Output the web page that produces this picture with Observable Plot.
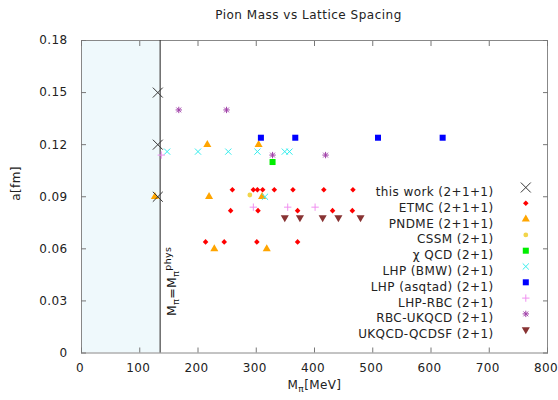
<!DOCTYPE html>
<html><head><meta charset="utf-8">
<script src="https://cdn.jsdelivr.net/npm/d3@7"></script>
<script src="https://cdn.jsdelivr.net/npm/@observablehq/plot@0.6"></script>
<style>
body{margin:0;background:#fff;font-family:"DejaVu Sans",sans-serif;}
#title{height:30px;line-height:31px;font-size:12px;letter-spacing:0.5px;text-align:center;width:558px;padding-left:59px;box-sizing:border-box;color:#222}
</style></head><body>
<div id="title">Pion Mass vs Lattice Spacing</div>
<div id="chart"></div>
<script>
const xTicks = [0,100,200,300,400,500,600,700,800];
const yTicks = [0,0.03,0.06,0.09,0.12,0.15,0.18];
const physMass = 135;
const thisWork = [[131,0.15],[131,0.12],[131,0.09]];
const etmc = [[259,0.094],[295,0.094],[302,0.094],[311,0.094],[331,0.094],[363,0.094],[416,0.094],[466,0.094],
              [256,0.082],[303,0.082],[371,0.082],[431,0.082],[465,0.082],
              [213,0.064],[245,0.064],[301,0.064],[371,0.064]];
const pndme = [[216,0.12],[304,0.12],[126,0.09],[219,0.09],[310,0.09],[228,0.06],[318,0.06]];
const cssm = [[289,0.091]];
const chiqcd = [[328,0.11]];
const lhpBmw = [[147,0.116],[200,0.116],[252,0.116],[302,0.116],[349,0.116],[357,0.116],[315,0.09]];
const lhpAsqtad = [[308,0.124],[367,0.124],[509,0.124],[620,0.124]];
const lhpRbc = [[137,0.114],[295,0.084],[354,0.084],[401,0.084]];
const rbcUkqcd = [[167,0.14],[249,0.14],[328,0.114],[419,0.114]];
const ukqcdQcdsf = [[349,0.078],[375,0.078],[414,0.078],[441,0.078],[479,0.078]];
const seriesLabels = ["this work (2+1+1)","ETMC (2+1+1)","PNDME (2+1+1)","CSSM (2+1)","χ QCD (2+1)",
  "LHP (BMW) (2+1)","LHP (asqtad) (2+1)","LHP-RBC (2+1)","RBC-UKQCD (2+1)","UKQCD-QCDSF (2+1)"];

const triangleDown = {draw(ctx, size) {
  const y = -Math.sqrt(size / (Math.sqrt(3) * 3));
  ctx.moveTo(0, -y * 2);
  ctx.lineTo(-Math.sqrt(3) * y, y);
  ctx.lineTo(Math.sqrt(3) * y, y);
  ctx.closePath();
}};
const star8 = {draw(ctx, size) {
  const r = Math.sqrt(size) * 0.6, d = r * 0.75;
  ctx.moveTo(-r, 0); ctx.lineTo(r, 0);
  ctx.moveTo(0, -r); ctx.lineTo(0, r);
  ctx.moveTo(-d, -d); ctx.lineTo(d, d);
  ctx.moveTo(-d, d); ctx.lineTo(d, -d);
}};

const styles = [
  {symbol:"times", stroke:"#333", fill:"none", r:4.6},
  {symbol:"diamond2", fill:"#ff0000", stroke:"none", r:2.5},
  {symbol:"triangle", fill:"#ffa500", stroke:"none", r:3},
  {symbol:"circle", fill:"#f2d54b", stroke:"none", r:2.4},
  {symbol:"square", fill:"#00ee00", stroke:"none", r:3.4},
  {symbol:"times", stroke:"#33eeee", fill:"none", r:2.9},
  {symbol:"square", fill:"#0000ff", stroke:"none", r:3.4},
  {symbol:"plus", stroke:"#f090f0", fill:"none", r:2.5},
  {symbol:star8, stroke:"#a040a8", fill:"none", r:3},
  {symbol:triangleDown, fill:"#883333", stroke:"none", r:3}
];
const seriesData = [thisWork, etmc, pndme, cssm, chiqcd, lhpBmw, lhpAsqtad, lhpRbc, rbcUkqcd, ukqcdQcdsf];

const drawOrder = [1,2,3,4,5,6,7,8,9,0];
const tickColor = "#777";

const marks = [
  Plot.rect([{a: xTicks[0], b: physMass}], {x1: "a", x2: "b", fill: "#eff9fc"}),
  Plot.frame({stroke: "#888"}),
  Plot.axisX(xTicks, {anchor: "bottom", tickSize: -5, fill: "none", stroke: tickColor, label: null}),
  Plot.axisX(xTicks, {anchor: "top", tickSize: -5, fill: "none", stroke: tickColor, label: null}),
  Plot.axisY(yTicks, {anchor: "left", tickSize: -5, fill: "none", stroke: tickColor, label: null}),
  Plot.axisY(yTicks, {anchor: "right", tickSize: -5, fill: "none", stroke: tickColor, label: null}),
  Plot.axisX(xTicks, {anchor: "bottom", tickSize: 0, tickPadding: 10, label: null, fill: "#222", dx: -1.5}),
  Plot.axisY(yTicks, {anchor: "left", tickSize: 0, tickPadding: 14, label: null, fill: "#222",
    tickFormat: d => d === 0 ? "0" : d.toFixed(2)}),
  Plot.ruleX([physMass], {stroke: "#333", strokeWidth: 1.1}),
  Plot.text(["M_{π}=M_{π}^{phys}"], {x: () => physMass, y: null, frameAnchor: "bottom", dx: 15.5, dy: -37,
    rotate: -90, textAnchor: "start", fill: "#111", fontSize: 12.5}),
  Plot.text(["M_{π}[MeV]"], {x: null, y: null, frameAnchor: "bottom", dy: 36, fill: "#222"}),
  Plot.text(["a[fm]"], {x: null, y: null, frameAnchor: "left", dx: -65, dy: 4, rotate: -90, fill: "#222"}),
  ...drawOrder.map(i => Plot.dot(seriesData[i], {x: d => d[0], y: d => d[1], ...styles[i], strokeWidth: 1})),
  ...seriesLabels.flatMap((label, i) => [
    Plot.text([label], {x: null, y: null, frameAnchor: "top-right", dx: -54, dy: 147 + 15.8 * i,
      textAnchor: "end", fill: "#222"}),
    Plot.dot([label], {x: null, y: null, frameAnchor: "top-right", dx: -21.7, dy: 147 + 15.8 * i,
      ...styles[i], strokeWidth: 1})
  ])
];

const chart = Plot.plot({
  width: 558, height: 370,
  marginTop: 10, marginBottom: 47.5, marginLeft: 81, marginRight: 11,
  x: {domain: [0, 800]},
  y: {domain: [0, 0.18]},
  style: {fontFamily: "DejaVu Sans", fontSize: "12px", letterSpacing: "0.4px", background: "#fff"},
  marks
});

d3.select(chart).selectAll("text").each(function() {
  const t = this.textContent;
  if (!/[_^]\{/.test(t)) return;
  const el = d3.select(this);
  el.text(null);
  const re = /([_^])\{([^}]*)\}|([^_^]+)/g;
  let m, shift = 0;
  while ((m = re.exec(t))) {
    if (m[3] !== undefined) {
      el.append("tspan").attr("dy", -shift).text(m[3]);
      shift = 0;
    } else {
      const s = m[1] === "_" ? 3 : -5;
      el.append("tspan").attr("dy", s - shift).attr("font-size", "0.75em").text(m[2]);
      shift = s;
    }
  }
});

document.getElementById("chart").append(chart);
</script>
</body></html>
